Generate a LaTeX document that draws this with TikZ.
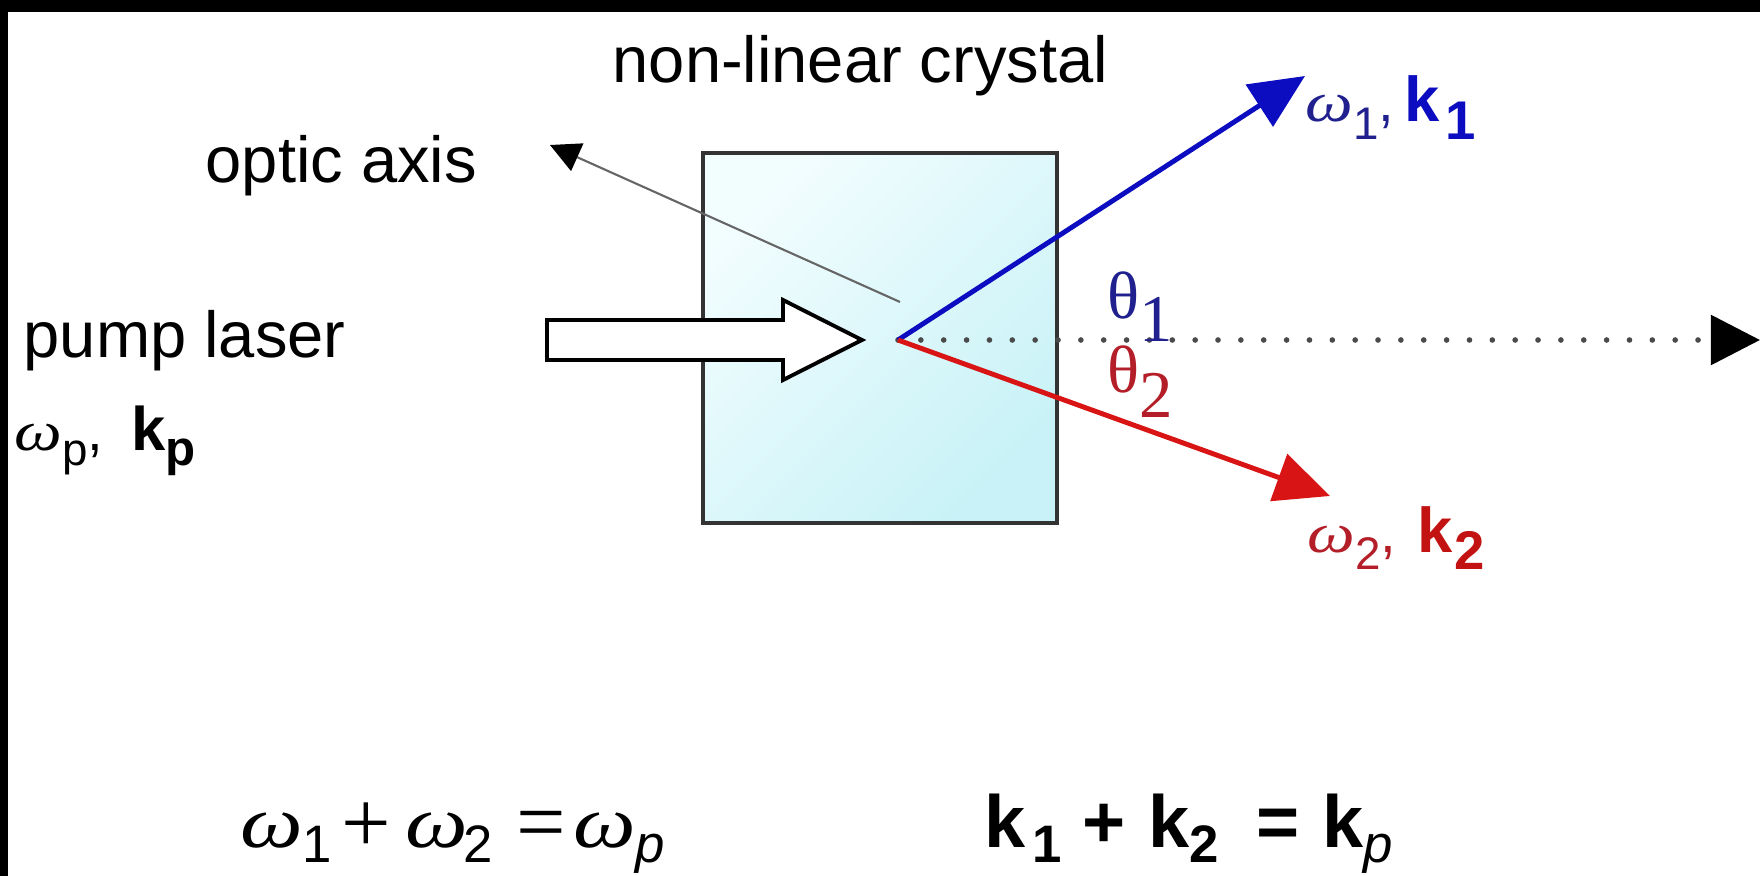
\documentclass[tikz,border=0pt]{standalone}
\usepackage{fontspec}
\setmainfont{Liberation Sans}
\newfontfamily\serif{Liberation Serif}
\usetikzlibrary{arrows.meta}
\definecolor{bl}{HTML}{0C0CC0}
\definecolor{bltxt}{HTML}{20208E}
\definecolor{rd}{HTML}{D81414}
\definecolor{rdtxt}{HTML}{B41E28}
\definecolor{cyanA}{HTML}{F2FDFE}
\definecolor{cyanB}{HTML}{C8F2F7}
\definecolor{dotgray}{HTML}{4A4A4A}
\newcommand\fs[1]{\fontsize{#1}{#1}\selectfont}
\newcommand\lw[2]{\raisebox{-#1}{#2}}
\newcommand\om{{\serif\itshape\scalebox{1.2}[1]{ω}}}
\newcommand\omeq{{\serif\itshape\scalebox{1.2}[1]{ω}}}
\newcommand\cell[2]{\makebox[#1][l]{#2}}
\begin{document}
\begin{tikzpicture}[x=0.01cm,y=-0.01cm,
  lbl/.style={inner sep=0pt, anchor=base west},
  beam/.style={line width=1.4pt, -{Triangle[length=15.5pt,width=14pt]}},
 ]
\useasboundingbox (0,0) rectangle (1760,876);
\fill[white] (0,0) rectangle (1760,876);
\fill[black] (0,0) rectangle (1760,12);
\fill[black] (0,0) rectangle (8,876);

% crystal
\node[draw=black!80, line width=1.1pt, minimum width=3.54cm, minimum height=3.70cm,
      top color=cyanA, bottom color=cyanB, shading angle=45] (crystal) at (880,338) {};

% optic axis
\coordinate (oa) at (900,302);
\coordinate (oat) at (550,145);
\draw[line width=0.6pt, black!60, -{Triangle[length=8.5pt,width=8.5pt,black]}] (oa) -- (oat);

% pump arrow
\draw[line width=1.1pt, fill=white, line join=miter]
  (547,320) -- (783,320) -- (783,300) -- (862,340) -- (783,380) -- (783,360) -- (547,360) -- cycle;

% beams
\coordinate (o) at (898,340);
\coordinate (dt) at (1760,340);
\coordinate (t1) at (1305,76);
\coordinate (t2) at (1330,496);
\draw[dotgray, line width=1.6pt, line cap=round, dash pattern=on 0pt off 6.5pt,
      -{Triangle[length=14pt,width=14pt,black]}] (o) -- (dt);
\draw[beam, bl] (o) -- (t1);
\draw[beam, rd] (o) -- (t2);

% labels
\node[lbl] (nlc) at (612,83) {\fs{18.5}non-linear crystal};
\node[lbl] (oax) at (205,183) {\fs{18.5}optic axis};
\node[lbl] (pl) at (23,357) {\fs{18.5}pump laser};
\node[lbl] (lp) at (14,450) {\fs{16}\om\lw{4.5pt}{\fs{13}p},\hspace{8pt}\textbf{\fs{17.5}k\lw{4.5pt}{\fs{14}p}}};
\node[lbl, bltxt] (l1) at (1305,122) {\fs{16}\om\lw{5pt}{\fs{13}1},\hspace{3pt}\textcolor{bl}{\textbf{\fs{18}k\hspace{1.5pt}\lw{5pt}{\fs{15.5}1}}}};
\node[lbl, rdtxt] (l2) at (1307,552) {\fs{16}\om\lw{5pt}{\fs{13}2},\hspace{6pt}\textcolor{rd!90!black}{\textbf{\fs{18}k\hspace{0.5pt}\lw{5pt}{\fs{15.5}2}}}};
\node[lbl, bltxt] (th1) at (1107,318) {\fs{19}\serif θ\lw{6.8pt}{1}};
\node[lbl, rdtxt] (th2) at (1107,393) {\fs{19}\serif θ\lw{7pt}{2}};

% equations
\node[lbl] (eq1) at (240,847) {\fs{21}%
  \cell{17.6pt}{\omeq}%
  \cell{11pt}{\lw{4.5pt}{\fs{15}1}}%
  \cell{18.3pt}{\lw{1.5pt}{\fs{25}\serif +}}%
  \cell{16.5pt}{\omeq}%
  \cell{15pt}{\lw{4.5pt}{\fs{15}2}}%
  \cell{16.3pt}{\lw{1.2pt}{\fs{25}\serif =}}%
  \cell{17.5pt}{\omeq}%
  \lw{4.5pt}{\fs{15}\itshape p}};
\node[lbl] (eq2) at (984,847) {\fs{21}\bfseries k\hspace{2pt}\lw{4.5pt}{\fs{15}1}\hspace{5.7pt}+\hspace{6.5pt}k\lw{4.5pt}{\fs{15}2}\hspace{10.8pt}=\hspace{6.5pt}k\lw{4.5pt}{\fs{15}\mdseries\itshape p}};
\end{tikzpicture}
\end{document}
